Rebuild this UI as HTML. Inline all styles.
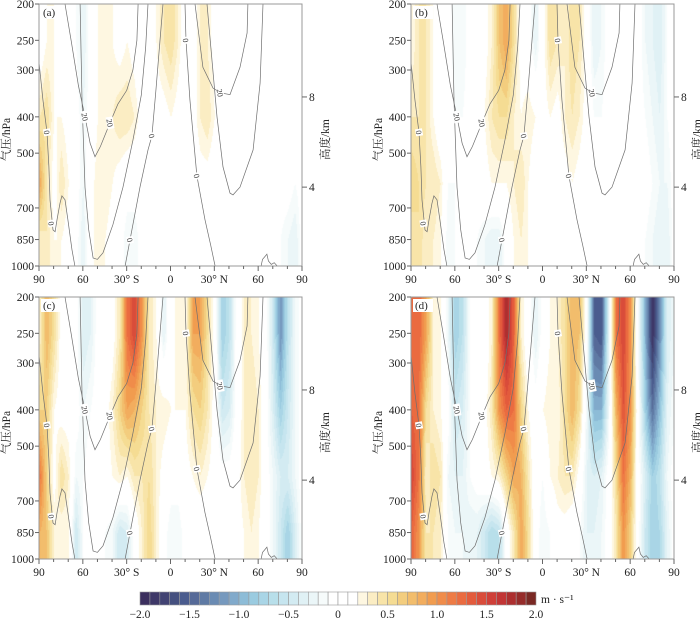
<!DOCTYPE html>
<html><head><meta charset="utf-8">
<style>
body{margin:0;background:#fff;width:700px;height:620px;overflow:hidden;position:relative;font-family:"Liberation Serif","Noto Serif CJK SC",serif;}
canvas{position:absolute;}
svg{position:absolute;left:0;top:0;}
</style></head>
<body>
<canvas id="cv-a" width="263" height="262" style="left:39px;top:4px"></canvas>
<canvas id="cv-b" width="263" height="262" style="left:411px;top:4px"></canvas>
<canvas id="cv-c" width="263" height="262" style="left:39px;top:297px"></canvas>
<canvas id="cv-d" width="263" height="262" style="left:411px;top:297px"></canvas>
<svg id="sv" width="700" height="620"></svg>
<script>
const lats=[-90,-85,-80,-75,-70,-65,-60,-55,-50,-45,-40,-35,-30,-25,-20,-15,-10,-5,0,5,10,15,20,25,30,35,40,45,50,55,60,65,70,75,80,85,90];
const levels=[250,400,600,850];
const a250=[0,0.2,0.2,0.1,0,-0.1,-0.3,0,0.2,0.3,0.2,0.1,0.2,0.1,0,0,0.2,0.4,0.5,0.3,0,0.1,0.3,0.3,0.1,0,0,0,0,0,0,0,-0.1,-0.1,-0.1,0,0];
const a400=[0.4,0.5,0.2,0.2,0.1,0,-0.2,0,0.2,0.3,0.3,0.4,0.4,0.3,0.1,0,0.1,0.1,0.2,0.1,0,0.1,0.3,0.4,0.2,0,0,0,0,0,0,0,0,0,0,0,0];
const a600=[0.9,0.4,0.1,0.4,0.2,0,-0.2,0.1,0.3,0.3,0.2,0.1,0,0,0,0.1,0.2,0.1,0,0,0,0,0.1,0.1,0,0,0,0.1,0.2,0.1,0,0,0,0,0,-0.1,0];
const a850=[0.3,0.4,0.2,0.2,0.1,0,-0.3,0.1,0.3,0.2,0.1,0,-0.2,-0.2,0,0,0.2,0.1,0,0,0,0,0,0,0,0,0,0,0.1,0.1,0,0,0,-0.1,-0.2,-0.3,0];
const b250=[0.2,0.4,0.4,0.2,0,0,-0.2,-0.2,0,0,0.1,0.3,0.7,0.9,0.5,0.1,0,-0.3,0.1,0.5,0.4,0.3,0.5,0.4,0.1,-0.3,-0.2,0,0.2,0.1,0,0,-0.2,-0.3,-0.4,-0.1,0];
const b400=[0.4,0.4,0.4,0.2,0,0,-0.1,-0.1,0,0,0.2,0.4,0.5,0.5,0.3,0.2,0.3,0.2,0.1,0.2,0.1,0.3,0.4,0.3,0.1,-0.1,-0.1,0,0.2,0.1,0,0,-0.1,-0.2,-0.3,-0.1,0];
const b600=[0.6,0.5,0.4,0.4,0.3,-0.1,-0.1,0,0,0,0.1,0.2,0.2,0.2,0.3,0.4,0.2,0,0,0,0.1,0.1,0.2,0.1,0,0,0,0.1,0.1,0.1,0,0,0,-0.1,-0.2,-0.2,0];
const b850=[0.4,0.5,0.3,0.3,0.2,-0.2,-0.1,0,0,-0.1,-0.2,-0.3,-0.3,0,0.2,0.3,0.2,0,-0.1,-0.1,0,0,0,0,0,0,0,0,0,0,0,0,-0.1,-0.2,-0.3,-0.3,0];
const c250=[0.3,0.8,0.5,0.1,0,0,-0.4,-0.3,0,0,0.1,0.4,1.2,1.5,1.0,0.4,0.2,-0.3,0.1,0.3,0.2,0.9,0.9,0.5,0.1,-0.8,-0.6,0,0.3,0.3,0.2,0,-0.5,-1.2,-0.6,-0.2,0];
const c400=[0.6,0.6,0.2,0.1,0.1,0,-0.2,-0.1,0,0.1,0.3,0.6,0.9,0.8,0.6,0.4,0.3,0.3,0.2,0.2,0.2,0.5,0.6,0.4,0.1,-0.5,-0.4,0,0.3,0.4,0.3,0,-0.4,-0.8,-0.5,-0.2,0];
const c600=[1.2,0.6,0.1,0.5,0.3,-0.2,-0.1,0,0,0.1,0.2,0.3,0.2,0.4,0.4,0.5,0.3,0.1,0,0,0.1,0.2,0.3,0.2,0.1,0,0,0.1,0.3,0.4,0.3,0,-0.2,-0.4,-0.4,-0.2,0];
const c850=[0.8,0.7,0.3,0.2,0.2,-0.5,-0.1,0,0,-0.1,-0.2,-0.5,-0.4,0,0.3,0.6,0.3,0,-0.2,-0.2,0,0,0,0,0,-0.1,0,0.1,0.2,0.3,0.2,0,-0.2,-0.5,-0.8,-0.4,0];
const d250=[1.2,1.3,0.9,0.3,0.2,-0.2,-0.8,-0.6,-0.1,0.1,0,0.3,1.2,1.8,1.3,0.3,0,-0.3,0,0.2,0.3,0.5,0.8,0.7,0,-1.5,-1.6,-0.3,1.2,1.5,1.0,-0.1,-1.0,-1.9,-1.2,-0.4,-0.2];
const d400=[1.3,1.2,0.5,0.3,0.2,0,-0.5,-0.4,-0.1,0,0.1,0.4,1.0,1.3,1.2,0.6,0.2,0,0.2,0.3,0.2,0.5,0.8,0.5,-0.2,-1.0,-1.0,-0.2,0.8,1.4,1.0,0,-0.8,-1.4,-0.9,-0.3,-0.1];
const d600=[1.5,1.2,0.3,0.5,0.4,-0.2,-0.3,-0.3,-0.1,0,0.1,0.2,0.3,0.6,0.9,0.8,0.4,0,-0.1,0.2,0.3,0.4,0.4,0.1,-0.3,-0.4,-0.3,0,0.5,1.2,0.8,0,-0.4,-0.8,-0.6,-0.2,0];
const d850=[1.3,1.0,0.4,0.4,0.3,-0.1,-0.2,-0.2,-0.3,-0.3,-0.5,-0.7,-0.6,0,0.4,0.9,0.5,0,-0.2,-0.1,0.1,0.1,0,-0.1,-0.3,-0.3,-0.2,0,0.4,1.0,0.6,0,-0.5,-0.8,-0.7,-0.3,0];
const pTicks=[200,250,300,400,500,700,850,1000];
const xTickLabels=["90","60","30° S","0","30° N","60","90"];
const cbTickValues=[-2.0,-1.5,-1.0,-0.5,0,0.5,1.0,1.5,2.0];
const cbColors=["#3b2f5e","#3e3868","#424373","#45507f","#4a5c8e","#566a98","#5f7aa4","#6a8bb3","#7699be","#81aacb","#8dbcd7","#9acbe0","#a9d5e6","#b8dfea","#c6e5ef","#d3ebf2","#e0f1f5","#ebf6f8","#f6fbfb","#ffffff","#ffffff","#ffffff","#fef7e1","#fbedc3","#f8e4a8","#f5dc93","#f3cd7e","#f2bd6c","#f2ad5e","#f19c4f","#f08c4a","#ee7b45","#ea6b40","#e35b3c","#d94c3a","#cf3f38","#c23535","#ad2f2f","#962c2a","#7a2924"];
const cPolar=[[-90,286],[-87.3,360],[-84.5,440],[-83.2,544],[-82.5,666],[-81.1,753],[-80.4,801],[-79,810],[-77.7,753],[-75.6,680],[-74.3,650],[-72.2,666],[-70.2,753],[-67.4,906],[-65.4,1000]];
const c20S=[[-72.2,200],[-68,250],[-63,330],[-58.5,400],[-55,470],[-51.7,511],[-48,480],[-41.4,415],[-36,370],[-30,340],[-25.7,300],[-23,250],[-22.2,200]];
const c0U=[[-61.9,200],[-60.6,360],[-58.5,616],[-56,800],[-53,952],[-50,960],[-46.2,922],[-39.4,776],[-32.5,616],[-25.7,462],[-20,350],[-17,260],[-15.4,200]];
const c0Eq=[[-31.1,1000],[-27.7,852],[-20.9,616],[-15.4,490],[-12.7,450],[-10,340],[-7.2,250],[-5.1,200]];
const c0N=[[9.9,200],[10.6,250],[13.3,360],[18.1,575],[23.6,753],[27.5,880],[30.5,1000]];
const c20N=[[16.8,200],[22.2,295],[29.1,335],[34,345],[40.7,349],[47.6,295],[52.4,239],[53,200]];
const c0NH=[[25,200],[31.8,400],[35.9,544],[40.7,639],[42.8,646],[47.6,616],[56.5,490],[61.3,325],[63.3,200]];
const cSmall=[[62,1000],[63,960],[65,940],[66,930],[67,970],[69,990],[71,980],[73,1000]];
const cLabels=[["0",-84.5,440],["0",-81.5,770],["20",-58.5,400],["20",-41.4,415],["0",-27.7,852],["0",-12.7,450],["0",10.6,250],["0",18.1,575],["20",34,345]];
const panels=[["a",39,4,[a250,a400,a600,a850]],["b",411,4,[b250,b400,b600,b850]],["c",39,297,[c250,c400,c600,c850]],["d",411,297,[d250,d400,d600,d850]]];

const W=263,H=262,LN5=Math.log(5);
function xS(lat){return (lat+90)/180*W;}
function yS(p){return Math.log(p/200)/LN5*H;}
function colorOf(v){let i=Math.floor((v+2)/0.1+1e-9);i=Math.max(0,Math.min(39,i));return cbColors[i];}
function hexRgb(h){return [parseInt(h.substr(1,2),16),parseInt(h.substr(3,2),16),parseInt(h.substr(5,2),16)];}
function valAt(rows,lat,p){
  const fi=(lat+90)/5;let i=Math.min(35,Math.floor(fi));const t=fi-i;
  const lv=levels.map((_,k)=>rows[k][i]*(1-t)+rows[k][i+1]*t);
  const lp=Math.log(p);
  if(p<=levels[0])return lv[0];
  if(p>=levels[3])return lv[3];
  for(let k=0;k<3;k++){if(p<=levels[k+1]){const u=(lp-Math.log(levels[k]))/(Math.log(levels[k+1])-Math.log(levels[k]));return lv[k]*(1-u)+lv[k+1]*u;}}
}
const NS="http://www.w3.org/2000/svg",sv=document.getElementById('sv');
function el(tag,at,parent){const e=document.createElementNS(NS,tag);for(const k in at)e.setAttribute(k,at[k]);(parent||sv).appendChild(e);return e;}
function txt(s,at,parent){const e=el('text',at,parent);e.textContent=s;return e;}

panels.forEach(([nm,ox,oy,rows])=>{
  const cv=document.getElementById('cv-'+nm),ctx=cv.getContext('2d');
  const img=ctx.createImageData(W,H);
  for(let y=0;y<H;y++){const p=200*Math.exp(y/H*LN5);
    for(let x=0;x<W;x++){const lat=-90+x/W*180;const c=hexRgb(colorOf(valAt(rows,lat,p)));const o=(y*W+x)*4;img.data[o]=c[0];img.data[o+1]=c[1];img.data[o+2]=c[2];img.data[o+3]=255;}}
  ctx.putImageData(img,0,0);
  const g=el('g',{transform:`translate(${ox},${oy})`});
  
  
  [cPolar,c20S,c0U,c0Eq,c0N,c20N,c0NH,cSmall].forEach(c=>{
    const path=el('path',{d:c.map((q,i)=>(i?'L':'M')+xS(q[0]).toFixed(1)+','+yS(q[1]).toFixed(1)).join(''),fill:'none',stroke:'#6e6e6e','stroke-width':0.7},g);
    
    
  });
  cLabels.forEach(([s,la,p])=>{
    const lg=el('g',{transform:`translate(${xS(la)},${yS(p)}) rotate(80)`},g);
    
    
    el('rect',{x:-s.length*2.5-1,y:-3.5,width:s.length*5+2,height:7,fill:'#fff'},lg);
    txt(s,{x:0,y:3,'font-size':8,'text-anchor':'middle',fill:'#333'},lg);
  });
  el('rect',{x:0,y:0,width:W,height:H,fill:'none',stroke:'#999','stroke-width':1},g);
  el('rect',{x:2,y:2,width:20,height:13,fill:'#fff'},g);
  const pl=txt('('+nm+')',{x:4,y:12,'font-size':11,fill:'#222'},g);
  
  
  pTicks.forEach(p=>{const y=yS(p);el('line',{x1:-4,x2:0,y1:y,y2:y,stroke:'#666'},g);
    const t=txt(String(p),{x:-5,y:y+4,'font-size':11.5,'text-anchor':'end',fill:'#222'},g);
    
    });
  for(let la=-90;la<=90;la+=10){const x=xS(la);el('line',{x1:x,x2:x,y1:H,y2:H+(la%30===0?5:3),stroke:'#666'},g);}
  xTickLabels.forEach((s,i)=>{const t=txt(s,{x:xS(-90+i*30),y:H+17,'font-size':11.5,'text-anchor':'middle',fill:'#222'},g);
    
    });
  [[8,354],[4,616]].forEach(([km,p])=>{const y=yS(p);el('line',{x1:W,x2:W+5,y1:y,y2:y,stroke:'#666'},g);
    const t=txt(String(km),{x:W+7,y:y+4,'font-size':11.5,fill:'#222'},g);
    
    });
  const yt=txt('气压/hPa',{transform:`translate(-29,${yS(460)}) rotate(-90)`,'font-size':11.5,'text-anchor':'middle',fill:'#222'},g);
  
  
  const rt=txt('高度/km',{transform:`translate(${W+27},${yS(460)}) rotate(-90)`,'font-size':11.5,'text-anchor':'middle',fill:'#222'},g);
  
  
});
const cbg=el('g',{});


const cbX=140,cbW=396,cbY=592,cbH=13;
function cbx(v){return cbX+(v+2)/4*cbW;}
cbColors.forEach((c,i)=>{const r=el('rect',{x:cbx(-2+i*0.1),y:cbY,width:cbW/40,height:cbH,fill:c,stroke:'#999','stroke-width':0.6},cbg);
  
  });
cbTickValues.forEach(v=>{const s=v===0?'0':(v<0?'−':'')+Math.abs(v).toFixed(1);
  const t=txt(s,{x:cbx(v),y:618,'font-size':11.5,'text-anchor':'middle',fill:'#222'},cbg);
  
  });
const ut=txt('m · s⁻¹',{x:541,y:603,'font-size':11.5,fill:'#222'},cbg);


</script>
</body></html>
